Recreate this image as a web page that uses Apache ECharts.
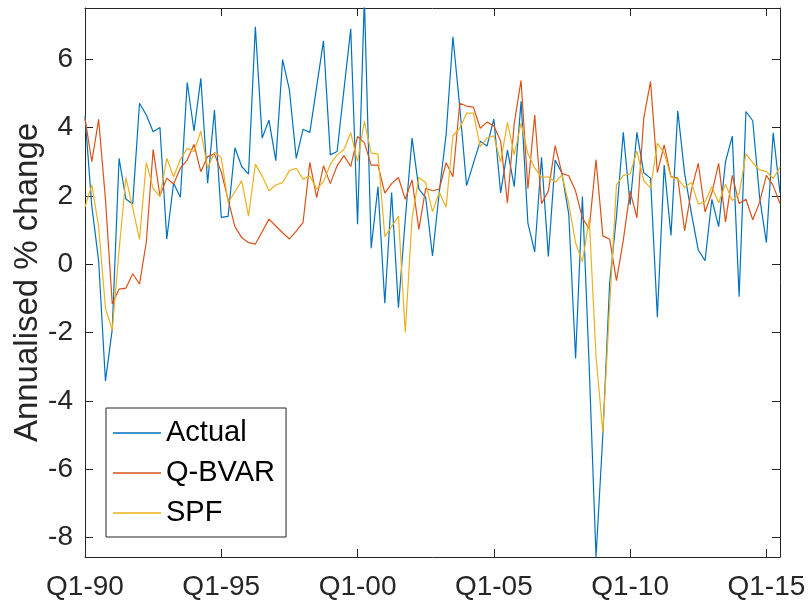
<!DOCTYPE html>
<html>
<head>
<meta charset="utf-8">
<script src="https://cdn.jsdelivr.net/npm/echarts@6/dist/echarts.min.js"></script>
<style>
  html, body { margin: 0; padding: 0; background: #fff; }
  #chart { width: 810px; height: 605px; }
</style>
</head>
<body>
<div id="chart"></div>
<script>
// quarterly, Q1-1990 .. Q3-2015 (index 0 = Q1-90)
var actual = [4.34, 1.7, 0.1, -3.42, -1.9, 3.1, 1.91, 1.76, 4.71, 4.37,
  3.88, 4.0, 0.74, 2.37, 1.96, 5.32, 3.9, 5.44, 2.37, 4.51,
  1.37, 1.4, 3.41, 2.86, 2.64, 6.95, 3.69, 4.22, 3.03, 5.99,
  5.1, 3.1, 3.95, 3.86, 5.2, 6.54, 3.2, 3.3, 5.1, 6.89,
  1.17, 7.8, 0.47, 2.27, -1.14, 2.1, -1.27, 1.3, 3.69, 2.2,
  1.96, 0.24, 2.12, 3.8, 6.66, 4.6, 2.3, 2.95, 3.6, 3.46,
  4.25, 2.09, 3.34, 2.27, 4.77, 1.2, 0.36, 3.13, 0.23, 3.05,
  2.66, 1.46, -2.76, 1.98, -3.0, -8.57, -5.0, -0.56, 1.4, 3.86,
  1.74, 3.86, 2.68, 2.52, -1.55, 2.9, 0.84, 4.49, 2.66, 1.49,
  0.42, 0.1, 1.9, 1.1, 3.0, 3.75, -0.95, 4.47, 4.2, 1.98,
  0.63, 3.85, 2.08];

var qbvar = [4.27, 3.0, 4.24, 1.9, -1.16, -0.73, -0.7, -0.28, -0.58, 0.65,
  3.36, 2.0, 2.52, 2.35, 2.81, 3.05, 3.51, 2.71, 3.15, 3.23,
  2.7, 1.9, 1.1, 0.78, 0.63, 0.59, 0.95, 1.32, 1.12, 0.92,
  0.74, 0.97, 1.22, 2.98, 1.95, 2.88, 2.36, 2.88, 3.18, 2.86,
  3.74, 3.56, 2.9, 2.9, 2.08, 2.36, 2.54, 1.9, 2.47, 1.02,
  2.22, 2.15, 2.2, 2.97, 2.56, 4.71, 4.63, 4.6, 3.98, 4.16,
  4.05, 3.6, 1.79, 4.13, 5.38, 2.21, 4.37, 1.77, 2.14, 3.47,
  2.66, 2.59, 2.14, 1.35, 1.04, 3.06, 0.83, 0.73, -0.48, 0.7,
  2.14, 1.36, 4.27, 5.35, 2.68, 3.49, 2.56, 2.52, 0.98, 2.17,
  2.95, 1.53, 2.09, 2.95, 1.24, 2.6, 1.78, 1.9, 1.3, 1.81,
  2.6, 2.3, 1.78];

var spf = [1.67, 2.32, 1.1, -1.29, -1.93, 0.4, 2.54, 1.64, 0.73, 2.98,
  2.22, 1.98, 3.1, 2.56, 3.07, 3.39, 3.3, 3.9, 2.81, 3.28,
  3.12, 1.8, 2.12, 2.44, 1.41, 2.93, 2.58, 2.15, 2.32, 2.39,
  2.74, 2.81, 2.49, 2.58, 2.2, 2.42, 2.92, 3.2, 3.36, 3.85,
  3.0, 4.19, 3.25, 3.22, 0.81, 1.1, 1.41, -2.0, 1.35, 2.54,
  2.39, 1.54, 2.1, 1.67, 3.76, 3.98, 4.42, 4.42, 3.44, 3.69,
  3.76, 2.99, 4.15, 3.2, 4.13, 3.24, 2.82, 2.54, 2.56, 2.4,
  2.61, 1.77, 0.62, 0.07, 1.33, -2.7, -4.93, -1.2, 2.32, 2.6,
  2.64, 3.32, 2.45, 2.23, 3.54, 3.25, 2.55, 2.5, 2.25, 2.39,
  1.76, 1.82, 2.27, 1.8, 2.34, 1.86, 2.05, 3.23, 2.97, 2.76,
  2.71, 2.51, 2.84];

var xTickPos = [0, 20, 40, 60, 80, 100];
var xTickLabels = ['Q1-90', 'Q1-95', 'Q1-00', 'Q1-05', 'Q1-10', 'Q1-15'];
var yTicks = [-8, -6, -4, -2, 0, 2, 4, 6];

function pairs(arr) {
    return arr.map(function (v, i) { return [i, v]; });
}

var axisColor = '#262626';
var font = 'Liberation Sans, Arial, Helvetica, sans-serif';

var chartDom = document.getElementById('chart');
var myChart = echarts.init(chartDom);

var xBase = {
    type: 'value',
    min: 0,
    max: 102,
    axisLine: { show: true, onZero: false, lineStyle: { color: axisColor, width: 1 } },
    axisTick: { show: true, inside: true, length: 8, customValues: xTickPos, lineStyle: { color: axisColor } },
    splitLine: { show: false }
};
var yBase = {
    type: 'value',
    min: -8.57,
    max: 7.5,
    axisLine: { show: true, onZero: false, lineStyle: { color: axisColor, width: 1 } },
    axisTick: { show: true, inside: true, length: 8, customValues: yTicks, lineStyle: { color: axisColor } },
    splitLine: { show: false }
};

var option = {
    animation: false,
    backgroundColor: '#fff',
    grid: { left: 85, right: 30, top: 8, bottom: 48, outerBoundsMode: 'none' },
    color: ['#0072BD', '#D95319', '#EDB120'],
    xAxis: [
        Object.assign({}, xBase, {
            position: 'bottom',
            axisLabel: {
                customValues: xTickPos,
                formatter: function (v) { return xTickLabels[Math.round(v / 20)]; },
                fontSize: 28, fontFamily: font, color: axisColor, margin: 16
            }
        }),
        Object.assign({}, xBase, { position: 'top', axisLabel: { show: false } })
    ],
    yAxis: [
        Object.assign({}, yBase, {
            position: 'left',
            name: 'Annualised % change',
            nameLocation: 'middle',
            nameGap: 57,
            nameMoveOverlap: false,
            nameTextStyle: { fontSize: 33, fontFamily: font, color: axisColor, verticalAlign: 'middle' },
            axisLabel: {
                customValues: yTicks,
                fontSize: 28, fontFamily: font, color: axisColor, margin: 12
            }
        }),
        Object.assign({}, yBase, { position: 'right', axisLabel: { show: false } })
    ],
    legend: {
        left: 106,
        top: 408,
        orient: 'vertical',
        icon: 'rect',
        itemWidth: 48,
        itemHeight: 1.3,
        itemGap: 8,
        padding: [9, 11, 8, 7],
        borderColor: axisColor,
        borderWidth: 1,
        backgroundColor: '#fff',
        textStyle: { fontSize: 29, fontFamily: font, color: '#000', lineHeight: 32 },
        data: ['Actual', 'Q-BVAR', 'SPF']
    },
    series: [
        { name: 'Actual', type: 'line', data: pairs(actual), symbol: 'none', clip: true, lineStyle: { width: 1.2 } },
        { name: 'Q-BVAR', type: 'line', data: pairs(qbvar), symbol: 'none', clip: true, lineStyle: { width: 1.2 } },
        { name: 'SPF', type: 'line', data: pairs(spf), symbol: 'none', clip: true, lineStyle: { width: 1.2 } }
    ]
};
option && myChart.setOption(option);
</script>
</body>
</html>
